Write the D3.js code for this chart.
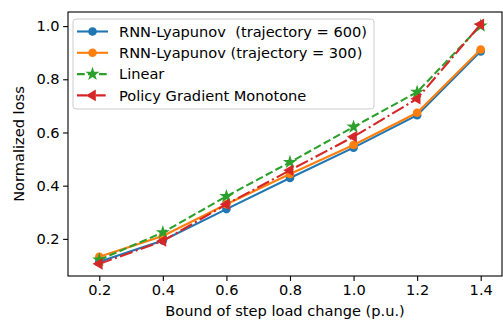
<!DOCTYPE html>
<html>
<head>
<meta charset="utf-8">
<script src="https://cdn.jsdelivr.net/npm/d3@7"></script>
<style>
  body { margin: 0; background: #fff; }
  text { font-family: "DejaVu Sans", sans-serif; fill: #000; white-space: pre; }
</style>
</head>
<body>
<div id="chart"></div>
<script>
// data
const bounds = [0.2, 0.4, 0.6, 0.8, 1.0, 1.2, 1.4];
const rnn600 = [0.114, 0.194, 0.312, 0.429, 0.543, 0.665, 0.905];
const rnn300 = [0.133, 0.211, 0.330, 0.444, 0.553, 0.674, 0.912];
const linear = [0.121, 0.224, 0.360, 0.488, 0.621, 0.752, 1.001];
const policyGrad = [0.106, 0.192, 0.330, 0.458, 0.584, 0.727, 1.007];
const xTicks = [0.2, 0.4, 0.6, 0.8, 1.0, 1.2, 1.4];
const yTicks = [0.2, 0.4, 0.6, 0.8, 1.0];

const series = [
  {name: "RNN-Lyapunov  (trajectory = 600)", values: rnn600, color: "#1f77b4", dash: null, marker: "circle"},
  {name: "RNN-Lyapunov (trajectory = 300)", values: rnn300, color: "#ff7f0e", dash: null, marker: "circle"},
  {name: "Linear", values: linear, color: "#2ca02c", dash: "7.7,3.3", marker: "star"},
  {name: "Policy Gradient Monotone", values: policyGrad, color: "#d62728", dash: "13.3,3.3,2.1,3.3", marker: "triangle"}
];

const W = 503, H = 322;
const fontSize = "14.6px";
const margin = {top: 12, right: 1, bottom: 46, left: 68};
const width = W - margin.left - margin.right;
const height = H - margin.top - margin.bottom;

const svg = d3.select("#chart").append("svg")
  .attr("width", W).attr("height", H);
const g = svg.append("g")
  .attr("transform", "translate(" + margin.left + "," + margin.top + ")");

const x = d3.scaleLinear().domain([0.1016, 1.467]).range([0, width]);
const y = d3.scaleLinear().domain([0.0604, 1.053]).range([height, 0]);

// axes
const xAxis = g.append("g")
  .attr("transform", "translate(0," + height + ")")
  .call(d3.axisBottom(x).tickValues(xTicks).tickFormat(d3.format(".1f")).tickSizeOuter(0).tickSize(4.9).tickPadding(3.5));
const yAxis = g.append("g")
  .call(d3.axisLeft(y).tickValues(yTicks).tickFormat(d3.format(".1f")).tickSizeOuter(0).tickSize(4.9).tickPadding(3.5));
[xAxis, yAxis].forEach(a => {
  a.select(".domain").remove();
  a.selectAll(".tick line").attr("stroke", "#000").attr("stroke-width", 1.1);
  a.selectAll(".tick text").style("font-size", fontSize).style("font-family", "DejaVu Sans");
});

// frame
g.append("rect")
  .attr("width", width).attr("height", height)
  .attr("fill", "none").attr("stroke", "#000").attr("stroke-width", 1.1);

const symbols = {
  circle: d3.symbol().type(d3.symbolCircle).size(Math.PI * 4.3 * 4.3),
  star: d3.symbol().type(d3.symbolStar).size(62),
  triangle: d3.symbol().type(d3.symbolTriangle).size(58)
};

const line = d3.line()
  .x((d, i) => x(bounds[i]))
  .y(d => y(d));

series.forEach(s => {
  g.append("path")
    .datum(s.values)
    .attr("d", line)
    .attr("fill", "none")
    .attr("stroke", s.color)
    .attr("stroke-width", 2.1)
    .attr("stroke-dasharray", s.dash);
  g.append("g").selectAll("path")
    .data(s.values)
    .enter()
    .append("path")
      .attr("d", symbols[s.marker])
      .attr("transform", (d, i) => "translate(" + x(bounds[i]) + "," + y(d) + ")" + (s.marker === "triangle" ? " rotate(-90)" : ""))
      .attr("fill", s.color);
});

// legend
const legend = g.append("g").attr("transform", "translate(5,7)");
legend.append("rect")
  .attr("width", 301).attr("height", 90)
  .attr("rx", 3)
  .attr("fill", "#fff").attr("fill-opacity", 0.8)
  .attr("stroke", "#ccc").attr("stroke-width", 1);
series.forEach((s, i) => {
  const ly = 12.5 + i * 21.3;
  legend.append("line")
    .attr("x1", 4).attr("x2", 35).attr("y1", ly).attr("y2", ly)
    .attr("stroke", s.color).attr("stroke-width", 2.1)
    .attr("stroke-dasharray", s.dash ? (s.marker === "star" ? "7.7,3.3" : "10,3.3,2.1,3.3") : null);
  legend.append("path")
    .attr("d", symbols[s.marker])
    .attr("transform", "translate(19.5," + ly + ")" + (s.marker === "triangle" ? " rotate(-90)" : ""))
    .attr("fill", s.color);
  legend.append("text")
    .attr("x", 46).attr("y", ly).attr("dy", "0.36em")
    .style("font-size", fontSize)
    .text(s.name);
});

// axis labels
svg.append("text")
  .attr("x", margin.left + width / 2).attr("y", 316)
  .attr("text-anchor", "middle")
  .style("font-size", fontSize)
  .text("Bound of step load change (p.u.)");
svg.append("text")
  .attr("transform", "translate(24," + (margin.top + height / 2) + ") rotate(-90)")
  .attr("text-anchor", "middle")
  .style("font-size", fontSize)
  .text("Normalized loss");
</script>
</body>
</html>
